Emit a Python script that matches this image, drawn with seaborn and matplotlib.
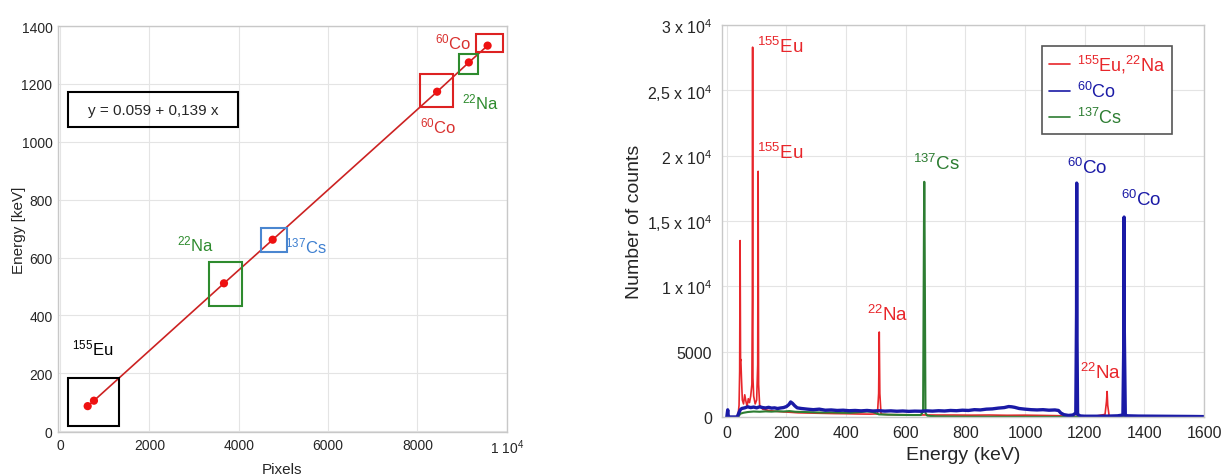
import numpy as np
import pandas as pd
import seaborn as sns
import matplotlib.pyplot as plt
from matplotlib.patches import Rectangle
from matplotlib.lines import Line2D

# calibration points (pixel position vs. known line energy)
cal_pixels = [620, 760, 3670, 4760, 8440, 9150, 9570]
cal_energy = [86.5, 105.3, 511.0, 661.7, 1173.2, 1274.5, 1332.5]

# spectra (energy in keV, counts)
red_energy = [0, 30, 38, 41, 43, 44.5, 46, 47, 49, 52, 56, 60, 64, 68, 72, 76, 80, 84, 85.5, 86.5,
              87.5, 90, 95, 100, 103.5, 105, 106.5, 110, 120, 140, 170, 200, 240, 280, 320, 360, 400,
              440, 480, 505, 509, 511, 513, 517, 540, 600, 650, 700, 760, 820, 880, 940, 1000, 1060,
              1110, 1140, 1180, 1230, 1268, 1273, 1275, 1277, 1282, 1320, 1400, 1500, 1600]
red_counts = [0, 0, 200, 900, 3500, 13500, 4300, 4400, 3000, 1300, 1000, 1700, 1200, 800, 1400, 1100,
              1600, 2500, 9000, 28300, 3000, 1600, 1000, 1300, 4000, 18800, 2500, 900, 600, 500, 420,
              380, 320, 300, 280, 260, 250, 230, 220, 240, 1800, 6500, 1800, 220, 180, 170, 160, 150,
              150, 140, 150, 130, 140, 120, 100, 60, 40, 40, 200, 1200, 1950, 900, 50, 30, 20, 15, 10]

blue_energy = [0, 3, 5, 8, 35, 40, 45, 50, 60, 70, 80, 90, 100, 110, 120, 130, 140, 150, 160, 170,
               180, 190, 200, 208, 214, 220, 228, 236, 250, 270, 290, 310, 330, 350, 370, 390, 410,
               430, 450, 470, 490, 510, 530, 550, 570, 590, 610, 630, 650, 670, 690, 710, 730, 750,
               770, 790, 810, 830, 850, 870, 890, 910, 930, 945, 955, 965, 980, 1000, 1020, 1040,
               1060, 1080, 1100, 1112, 1120, 1130, 1145, 1160, 1170, 1172.5, 1173, 1173.5, 1176, 1185,
               1200, 1240, 1280, 1310, 1328, 1331.5, 1332, 1332.5, 1336, 1345, 1380, 1440, 1500, 1560,
               1600]
blue_counts = [0, 550, 50, 0, 0, 300, 550, 650, 700, 780, 720, 760, 700, 780, 720, 690, 740, 680, 700,
               650, 690, 720, 800, 950, 1150, 1050, 850, 700, 650, 600, 560, 600, 520, 540, 500, 520,
               480, 500, 470, 500, 460, 480, 450, 470, 440, 460, 430, 450, 440, 470, 450, 480, 460,
               500, 480, 520, 500, 560, 540, 600, 620, 680, 720, 800, 780, 740, 650, 600, 560, 540,
               560, 520, 540, 500, 300, 180, 120, 150, 300, 8000, 17900, 8000, 200, 80, 60, 60, 70,
               90, 150, 7000, 15300, 7000, 120, 90, 70, 60, 50, 40, 30]

green_energy = [0, 38, 45, 55, 70, 90, 110, 130, 150, 170, 190, 210, 230, 260, 290, 320, 350, 380,
                410, 440, 470, 490, 510, 540, 580, 620, 650, 658, 661, 662, 663, 666, 672, 700, 800,
                1000, 1200, 1600]
green_counts = [0, 0, 250, 320, 380, 420, 400, 430, 410, 440, 420, 450, 400, 380, 360, 340, 350, 330,
                320, 360, 420, 380, 200, 180, 160, 150, 150, 400, 15000, 18000, 15000, 300, 100, 50,
                20, 10, 5, 0]

RED = '#e8262b'
BLUE = '#1a1aa6'
GREEN = '#2d7d32'

sns.set_style('whitegrid')
plt.rcParams['font.family'] = ['Liberation Sans', 'DejaVu Sans']
plt.rcParams['mathtext.fontset'] = 'custom'
plt.rcParams['mathtext.rm'] = 'Liberation Sans'
plt.rcParams['mathtext.default'] = 'regular'

fig = plt.figure(figsize=(12.23, 4.77), dpi=100)
ax1 = fig.add_axes([0.0474, 0.0922, 0.367, 0.851])
ax2 = fig.add_axes([0.5904, 0.1237, 0.3941, 0.8218])

# ---- left: calibration ----
cal = pd.DataFrame({'Pixels': cal_pixels, 'Energy [keV]': cal_energy})
sns.lineplot(data=cal, x='Pixels', y='Energy [keV]', ax=ax1, color='#cc2222', lw=1.2)
sns.scatterplot(data=cal, x='Pixels', y='Energy [keV]', ax=ax1, color='#ee1111',
                s=35, edgecolor='none', zorder=5)

ax1.set_xlim(-45, 10000)
ax1.set_ylim(-3, 1400)
ax1.set_xticks([0, 2000, 4000, 6000, 8000, 10000],
               ['0', '2000', '4000', '6000', '8000', r'1 10$^{4}$'])
ax1.set_yticks(range(0, 1401, 200))
ax1.tick_params(labelsize=10, length=0, pad=4)
ax1.set_xlabel('Pixels', fontsize=11)
ax1.set_ylabel('Energy [keV]', fontsize=11, labelpad=-3)

for x0, y0, x1, y1, c in [(180, 17, 1320, 183, 'black'),
                          (3330, 432, 4070, 583, '#2e8b2e'),
                          (4500, 618, 5080, 701, '#4a86d0'),
                          (8050, 1119, 8790, 1233, '#dd2222'),
                          (8925, 1233, 9350, 1305, '#2e8b2e'),
                          (9306, 1312, 9910, 1371, '#dd2222')]:
    ax1.add_patch(Rectangle((x0, y0), x1 - x0, y1 - y0, fill=False, ec=c, lw=1.5, zorder=4))

ax1.add_patch(Rectangle((180, 1050), 3800, 121, fill=False, ec='black', lw=1.5, zorder=4))
ax1.text(2080, 1110, 'y = 0.059 + 0,139 x', fontsize=11, ha='center', va='center')

ann = dict(fontsize=12, ha='center', va='center')
ax1.text(730, 290, r'$^{155}$Eu', color='black', **ann)
ax1.text(3040, 650, r'$^{22}$Na', color='#2e8b2e', **ann)
ax1.text(5500, 642, r'$^{137}$Cs', color='#3d7fd0', **ann)
ax1.text(8470, 1055, r'$^{60}$Co', color='#d9312f', **ann)
ax1.text(9420, 1140, r'$^{22}$Na', color='#2e8b2e', **ann)
ax1.text(8800, 1348, r'$^{60}$Co', color='#d9312f', **ann)

# ---- right: spectra ----
spec = [('red', red_energy, red_counts, RED, 1.2),
        ('green', green_energy, green_counts, GREEN, 1.5),
        ('blue', blue_energy, blue_counts, BLUE, 2.4)]
for name, e, c, col, lw in spec:
    df = pd.DataFrame({'Energy (keV)': e, 'Number of counts': c})
    sns.lineplot(data=df, x='Energy (keV)', y='Number of counts', ax=ax2, color=col,
                 lw=lw, estimator=None)

ax2.set_xlim(-16, 1600)
ax2.set_ylim(0, 30000)
ax2.set_xticks(range(0, 1601, 200))
ax2.set_yticks([0, 5000, 10000, 15000, 20000, 25000, 30000],
               ['0', '5000', r'1 x 10$^{4}$', r'1,5 x 10$^{4}$', r'2 x 10$^{4}$',
                r'2,5 x 10$^{4}$', r'3 x 10$^{4}$'])
ax2.tick_params(axis='x', labelsize=11.5, length=0, pad=6)
ax2.tick_params(axis='y', labelsize=11.5, length=0, pad=7)
ax2.set_xlabel('Energy (keV)', fontsize=14, labelpad=4)
ax2.set_ylabel('Number of counts', fontsize=14, labelpad=3)

ann2 = dict(fontsize=13.5, ha='center', va='center')
ax2.text(178, 28400, r'$^{155}$Eu', color=RED, **ann2)
ax2.text(178, 20300, r'$^{155}$Eu', color=RED, **ann2)
ax2.text(540, 7900, r'$^{22}$Na', color=RED, **ann2)
ax2.text(1253, 3450, r'$^{22}$Na', color=RED, **ann2)
ax2.text(703, 19450, r'$^{137}$Cs', color=GREEN, **ann2)
ax2.text(1207, 19150, r'$^{60}$Co', color=BLUE, **ann2)
ax2.text(1390, 16700, r'$^{60}$Co', color=BLUE, **ann2)

handles = [Line2D([], [], color=RED, lw=1.2), Line2D([], [], color=BLUE, lw=1.2),
           Line2D([], [], color=GREEN, lw=1.2)]
leg = ax2.legend(handles, [r'$^{155}$Eu,$^{22}$Na', r'$^{60}$Co', r'$^{137}$Cs'],
                 loc='upper right', bbox_to_anchor=(0.934, 0.946), fontsize=13,
                 handlelength=1.2, handletextpad=0.4, labelspacing=0.35,
                 fancybox=False, framealpha=1, borderpad=0.35, borderaxespad=0)
leg.get_frame().set_edgecolor('#555555')
leg.get_frame().set_linewidth(1.2)
for t, col in zip(leg.get_texts(), [RED, BLUE, GREEN]):
    t.set_color(col)

for ax in (ax1, ax2):
    ax.grid(color='#e4e4e4', lw=0.8)
    for s in ax.spines.values():
        s.set_color('#c8c8c8')
        s.set_linewidth(1)

fig.savefig('out.png', dpi=100)
